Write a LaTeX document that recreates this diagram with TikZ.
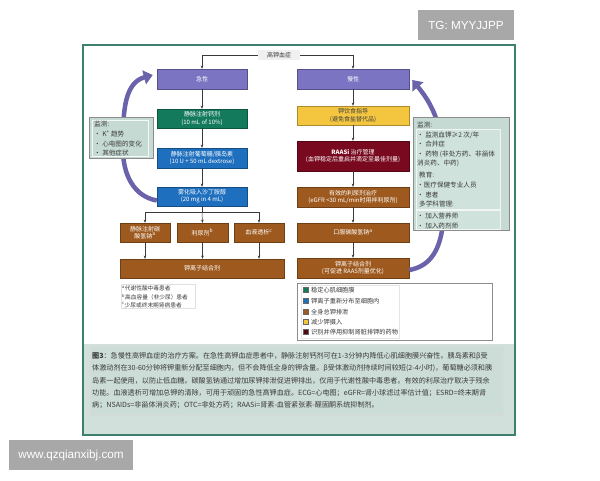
\documentclass[tikz,border=0pt]{standalone}
\usepackage{fontspec}
\setmainfont{Noto Sans CJK SC}
\newfontfamily\wmfont{Liberation Sans}
\usetikzlibrary{arrows.meta}
\definecolor{lav}{HTML}{7A74C2}
\definecolor{grn}{HTML}{147A5C}
\definecolor{blu}{HTML}{1E6FBE}
\definecolor{yel}{HTML}{F4C640}
\definecolor{mar}{HTML}{78091E}
\definecolor{brn}{HTML}{9E5A1E}
\definecolor{monbg}{HTML}{C6DAD4}
\definecolor{monin}{HTML}{CFE2DC}
\definecolor{capbg}{HTML}{D2E0DB}
\definecolor{capin}{HTML}{CCDCD6}
\definecolor{framec}{HTML}{3E8070}
\definecolor{arcc}{HTML}{6A62AA}
\definecolor{wmgray}{HTML}{A8A8A8}
\definecolor{txt}{HTML}{3A3A3A}
\tikzset{
  cbox/.style={draw=#1!70!black, fill=#1, text=white, align=center, inner sep=0pt,
    font=\fontsize{6}{7.2}\selectfont},
  conn/.style={draw=txt, line width=0.5pt, -{Stealth[length=3.2pt,width=2.6pt]}},
  plain/.style={draw=txt, line width=0.5pt},
  arcarrow/.style={draw=arcc, line width=4.5pt, -{Triangle[length=9pt,width=14pt]}},
  montxt/.style={anchor=west, inner sep=0pt, text=txt, font=\fontsize{6.6}{7.5}\selectfont},
  legtxt/.style={anchor=west, inner sep=0pt, text=txt, font=\fontsize{6.2}{7}\selectfont},
  captxt/.style={anchor=west, inner sep=0pt, text=txt, font=\fontsize{7.1}{8}\selectfont},
  legsq/.style={draw=black!60, line width=0.3pt, minimum size=4.8pt, inner sep=0pt},
  wmbox/.style={fill=wmgray, text=white, inner sep=0pt, font=\wmfont\fontsize{11.7}{13}\selectfont}
}
\begin{document}
\begin{tikzpicture}[x=1pt,y=-1pt]
\useasboundingbox (0,0) rectangle (600,480);
\fill[white] (0,0) rectangle (600,480);
% panel
\fill[white] (83,45) rectangle (515,435);
\fill[capbg] (83,344) rectangle (515,435);
\draw[draw=black!15, fill=capin, line width=0.4pt] (90,346) rectangle (503,415);
\draw[framec, line width=1.4pt] (83,45) rectangle (515,435);

% title
\node[fill=black!6, text=txt, inner sep=0pt, minimum width=42pt, minimum height=10pt,
  font=\fontsize{6}{7}\selectfont] (t) at (279,55) {高钾血症};

% acute column
\node[cbox=lav, minimum width=90pt, minimum height=20pt] (a1) at (202,79) {急性};
\node[cbox=grn, minimum width=90pt, minimum height=19pt] (a2) at (202,118.5) {静脉注射钙剂\\(10 mL of 10\%)};
\node[cbox=blu, minimum width=90pt, minimum height=20pt] (a3) at (202,158) {静脉注射葡萄糖/胰岛素\\(10 U + 50 mL dextrose)};
\node[cbox=blu, minimum width=90pt, minimum height=19pt] (a4) at (202,196.5) {雾化吸入沙丁胺醇\\(20 mg in 4 mL)};
\node[cbox=brn, minimum width=50pt, minimum height=19pt] (b1) at (145,232.5) {静脉注射碳\\酸氢钠\textsuperscript{a}};
\node[cbox=brn, minimum width=51pt, minimum height=19pt] (b2) at (202.5,232.5) {利尿剂\textsuperscript{b}};
\node[cbox=brn, minimum width=50pt, minimum height=19pt] (b3) at (259,232.5) {血液透析\textsuperscript{c}};
\node[cbox=brn, minimum width=164pt, minimum height=19pt] (b4) at (202,268.5) {钾离子结合剂};

% chronic column
\node[cbox=lav, minimum width=112pt, minimum height=20pt] (r1) at (353,79) {慢性};
\node[cbox=yel, text=black!75, minimum width=112pt, minimum height=19pt] (r2) at (353,115.5) {钾饮食指导\\(避免食盐替代品)};
\node[cbox=mar, minimum width=112pt, minimum height=30pt] (r3) at (353,156) {{\bfseries RAASi} 治疗管理\\(血钾稳定后重启并滴定至最佳剂量)};
\node[cbox=brn, minimum width=112pt, minimum height=20pt] (r4) at (353,197) {有效的利尿剂治疗\\(eGFR <30 mL/min时用袢利尿剂)};
\node[cbox=brn, minimum width=112pt, minimum height=19pt] (r5) at (353,232.5) {口服碳酸氢钠\textsuperscript{a}};
\node[cbox=brn, minimum width=112pt, minimum height=20pt] (r6) at (353,268) {钾离子结合剂\\(可促进 RAAS剂量优化)};

% connectors
\draw[conn] (t.west) -| (a1.north);
\draw[conn] (t.east) -| (r1.north);
\draw[conn] (a1.south) -- (a2.north);
\draw[conn] (a2.south) -- (a3.north);
\draw[conn] (a3.south) -- (a4.north);
\coordinate (sp) at (202,212);
\draw[plain] (a4.south) -- (sp);
\draw[conn] (sp) -| (b1.north);
\draw[conn] (sp) -| (b3.north);
\draw[conn] (sp) -- (b2.north);
\draw[conn] (b1.south) -- (b1.south |- b4.north);
\draw[conn] (b2.south) -- (b2.south |- b4.north);
\draw[conn] (b3.south) -- (b3.south |- b4.north);
\draw[conn] (r1.south) -- (r2.north);
\draw[conn] (r2.south) -- (r3.north);
\draw[conn] (r3.south) -- (r4.north);
\draw[conn] (r4.south) -- (r5.north);
\draw[conn] (r5.south) -- (r6.north);

% curved feedback arrows
\draw[arcarrow] ([yshift=-4pt]a4.west) to[out=170,in=-90] (123,150) to[out=90,in=195] ([xshift=-4pt,yshift=4pt]a1.west);
\draw[arcarrow] ([yshift=-2pt]r6.east) to[out=10,in=-90] (444,175) to[out=90,in=-50] ([xshift=3pt,yshift=-1pt]r1.east);

% left monitoring box
\node[draw=black!45, fill=monbg, line width=0.5pt, minimum width=64pt, minimum height=41pt, inner sep=0pt] (ml) at (121,137.5) {};
\draw[draw=white!80!monbg, line width=0.4pt] (92,120) rectangle (148,156);
\node[montxt] (ml1) at (94,124) {监测:};
\node[montxt] (ml2) at (94,134) {• K\textsuperscript{+} 趋势};
\node[montxt] (ml3) at (94,143.5) {• 心电图的变化};
\node[montxt] (ml4) at (94,153) {• 其他症状};

% right monitoring box
\node[draw=black!45, fill=monbg, line width=0.5pt, minimum width=96pt, minimum height=113pt, inner sep=0pt] (mr) at (461,173.5) {};
\draw[draw=white!75!monbg, fill=monin, line width=0.4pt] (416,129) rectangle (500,209);
\draw[draw=white!75!monbg, fill=monin, line width=0.4pt] (416,210) rectangle (500,229);
\node[montxt] (mr1) at (417,125) {监测:};
\node[montxt] (mr2) at (417,135) {• 监测血钾≥2 次/年};
\node[montxt] (mr3) at (417,144.5) {• 合并症};
\node[montxt] (mr4) at (417,154) {• 药物 (非处方药、非甾体};
\node[montxt] (mr5) at (417,163.5) {消炎药、中药)};
\node[montxt] (mr6) at (419,175) {教育:};
\node[montxt] (mr7) at (417,185) {•医疗保健专业人员};
\node[montxt] (mr8) at (417,194.5) {• 患者};
\node[montxt] (mr9) at (419,204) {多学科管理:};
\node[montxt] (mr10) at (417,216) {• 加入营养师};
\node[montxt] (mr11) at (417,225.5) {• 加入药剂师};

% footnotes
\node[draw=black!12, fill=white, minimum width=74pt, minimum height=24pt, inner sep=0pt] (fn) at (158,296) {};
\node[legtxt, font=\fontsize{5.7}{6.5}\selectfont] (fn1) at (122,288.5) {\textsuperscript{a}代谢性酸中毒患者};
\node[legtxt, font=\fontsize{5.7}{6.5}\selectfont] (fn2) at (122,297) {\textsuperscript{b}高血容量（非少尿）患者};
\node[legtxt, font=\fontsize{5.7}{6.5}\selectfont] (fn3) at (122,305) {\textsuperscript{c}少尿或终末期肾病患者};

% legend
\node[draw=black!45, fill=white, line width=0.6pt, minimum width=195pt, minimum height=57pt, inner sep=0pt] (lg) at (394.5,311.5) {};
\draw[draw=black!10, line width=0.4pt] (301,285) rectangle (399,338);
\node[legsq, fill=grn] (s1) at (306,290) {};
\node[legsq, fill=blu] (s2) at (306,301) {};
\node[legsq, fill=brn] (s3) at (306,312) {};
\node[legsq, fill=yel] (s4) at (306,322) {};
\node[legsq, fill=mar!70!black] (s5) at (306,332) {};
\node[legtxt] (l1) at (311,290) {稳定心肌细胞膜};
\node[legtxt] (l2) at (311,301) {钾离子重新分布至细胞内};
\node[legtxt] (l3) at (311,312) {全身总钾排泄};
\node[legtxt] (l4) at (311,322) {减少钾摄入};
\node[legtxt] (l5) at (311,332) {识别并停用抑制肾脏排钾的药物};

% caption
\node[captxt] (c1) at (92,356) {{\bfseries 图3}：急慢性高钾血症的治疗方案。在急性高钾血症患者中，静脉注射钙剂可在1-3分钟内降低心肌细胞膜兴奋性。胰岛素和β受};
\node[captxt] (c2) at (92,368) {体激动剂在30-60分钟将钾重新分配至细胞内，但不会降低全身的钾含量。β受体激动剂持续时间较短(2-4小时)，葡萄糖必须和胰};
\node[captxt] (c3) at (92,381) {岛素一起使用，以防止低血糖。碳酸氢钠通过增加尿钾排泄促进钾排出，仅用于代谢性酸中毒患者。有效的利尿治疗取决于残余};
\node[captxt] (c4) at (92,393) {功能。血液透析可增加总钾的清除，可用于顽固的急性高钾血症。ECG=心电图；eGFR=肾小球滤过率估计值；ESRD=终末期肾};
\node[captxt] (c5) at (92,405) {病；NSAIDs=非甾体消炎药；OTC=非处方药；RAASi=肾素-血管紧张素-醛固酮系统抑制剂。};

% watermarks
\node[wmbox, minimum width=96pt, minimum height=30pt] (tg) at (466,25) {TG: MYYJJPP};
\node[wmbox, minimum width=124pt, minimum height=30pt] (ww) at (71,455) {www.qzqianxibj.com};
\end{tikzpicture}
\end{document}
